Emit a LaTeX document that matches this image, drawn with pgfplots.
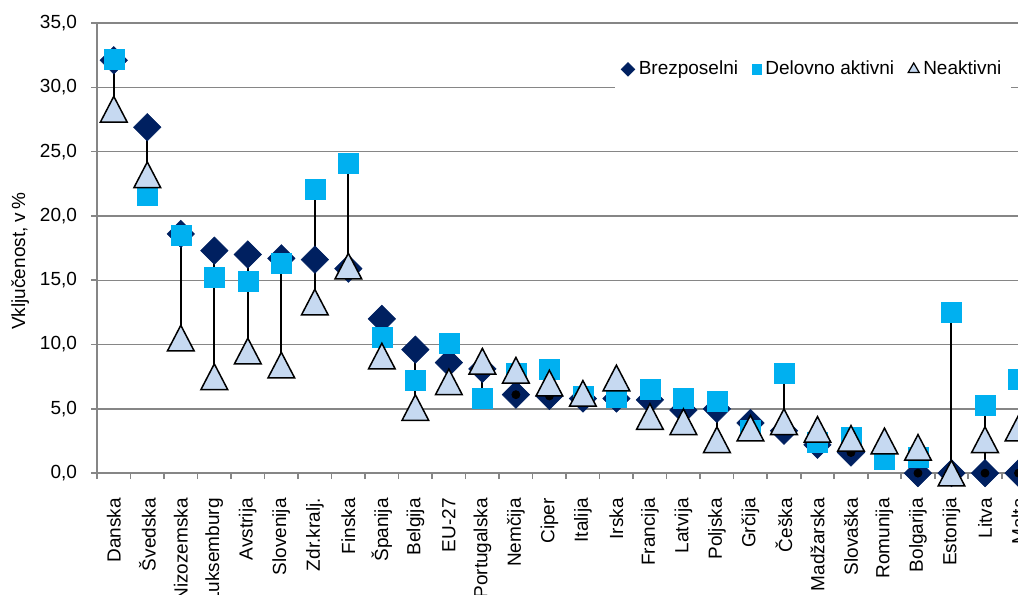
\documentclass[border=0pt]{standalone}
\usepackage{pgfplots}
\pgfplotsset{compat=1.18}
\usepackage{pgfplotstable}
\usepackage{fontspec}
\setmainfont{Liberation Sans}
\definecolor{navy}{RGB}{0,32,96}
\definecolor{cyanb}{RGB}{0,176,240}
\definecolor{tri}{RGB}{198,217,241}
\definecolor{axgray}{RGB}{134,134,134}

\pgfplotstableread{
i brez del neak lo hi
0 32.1 32.2 28.3 28.3 32.2
1 26.9 21.6 23.2 21.6 26.9
2 18.6 18.5 10.5 10.5 18.6
3 17.3 15.2 7.5 7.5 17.3
4 17.0 14.9 9.5 9.5 17.0
5 16.7 16.3 8.4 8.4 16.7
6 16.6 22.1 13.3 13.3 22.1
7 15.9 24.1 16.1 15.9 24.1
8 12.0 10.6 9.1 9.1 12.0
9 9.6 7.2 5.1 5.1 9.6
10 8.6 10.1 7.1 7.1 10.1
11 8.1 5.8 8.7 5.8 8.7
12 6.1 7.8 8.0 6.1 8.0
13 6.0 8.1 7.0 6.0 8.1
14 5.8 6.0 6.2 5.8 6.2
15 5.8 5.9 7.4 5.8 7.4
16 5.7 6.5 4.4 4.4 6.5
17 4.9 5.8 4.0 4.0 5.8
18 5.0 5.6 2.6 2.6 5.6
19 3.9 3.3 3.5 3.3 3.9
20 3.3 7.8 4.0 3.3 7.8
21 2.2 2.4 3.4 2.2 3.4
22 1.6 2.8 2.7 1.6 2.8
23 nan 1.1 2.5 1.1 2.5
24 0.0 1.2 2.0 0.0 2.0
25 0.0 12.5 0.0 0.0 12.5
26 0.0 5.3 2.6 0.0 5.3
27 0.0 7.3 3.5 0.0 7.3
}\data

\pgfplotsset{smallmark/.style={legend image code/.code={\draw[mark repeat=2,mark phase=2,##1] plot coordinates {(0cm,0cm) (0.12cm,0cm) (0.24cm,0cm)};}}}

\begin{document}
\begin{tikzpicture}
\begin{axis}[
  x=16.75pt, y=6.4286pt,
  xmin=-0.5, xmax=27.5, ymin=0, ymax=35,
  clip=false,
  axis x line*=bottom, axis y line*=left,
  axis line style={axgray, line width=0.8pt},
  tick align=outside,
  xtick={0,...,27},
  xticklabels={Danska,Švedska,Nizozemska,Luksemburg,Avstrija,Slovenija,Zdr.kralj.,Finska,Španija,Belgija,EU-27,Portugalska,Nemčija,Ciper,Italija,Irska,Francija,Latvija,Poljska,Grčija,Češka,Madžarska,Slovaška,Romunija,Bolgarija,Estonija,Litva,Malta},
  minor xtick={-0.5,0.5,...,27.5},
  major x tick style={draw=none},
  minor x tick style={axgray, line width=0.8pt},
  minor tick length=3pt, major tick length=3pt,
  y tick style={axgray, line width=0.8pt},
  ytick={0,5,...,35},
  ymajorgrids, grid style={axgray, line width=0.7pt},
  tick label style={font=\fontsize{9.5}{11}\selectfont},
  yticklabel style={xshift=-3.5pt, /pgf/number format/.cd, fixed, fixed zerofill, precision=1, use comma, assume math mode=true},
  xticklabel style={yshift=-6pt, rotate=90, anchor=east},
  ylabel={Vključenost, v\,\%},
  every axis y label/.style={at={(axis description cs:-0.082,0.471)}, rotate=90, anchor=center, font=\fontsize{9.5}{11}\selectfont},
  legend columns=3,
  legend style={at={(axis description cs:0.975,0.897)}, anchor=east, draw=none, fill=white,
    inner xsep=3pt, inner ysep=5pt, font=\fontsize{9.5}{11}\selectfont,
    /tikz/every even column/.append style={column sep=5pt}},
]
\addlegendimage{only marks, mark=square*, mark size=2.4pt, mark options={rotate=45, fill=navy, draw=navy}, smallmark}
\addlegendentry{Brezposelni}
\addlegendimage{only marks, mark=square*, mark size=2.3pt, mark options={fill=cyanb, draw=cyanb}, smallmark}
\addlegendentry{Delovno aktivni}
\addlegendimage{only marks, mark=triangle*, mark size=3.2pt, mark options={fill=tri, draw=black, line width=0.6pt}, smallmark}
\addlegendentry{Neaktivni}

\addplot[forget plot, only marks, mark=square*, mark size=4.84pt,
  mark options={rotate=45, fill=navy, draw=navy, line width=0.3pt}]
  table[x=i, y=brez] {\data};
\addplot[forget plot, only marks, mark=none,
  error bars/.cd, y dir=plus, y explicit, error mark=none,
  error bar style={draw=black, line width=1pt, solid}]
  table[x=i, y=lo, y error expr=\thisrow{hi}-\thisrow{lo}] {\data};
\addplot[forget plot, only marks, mark=square*, mark size=5pt,
  mark options={fill=cyanb, draw=cyanb, line width=0.2pt}]
  table[x=i, y=del] {\data};
\addplot[forget plot, only marks, mark=triangle*, mark size=7.7pt,
  mark options={yshift=-2.14pt, yscale=1.11, fill=tri, draw=black, line width=0.75pt}]
  table[x=i, y=neak] {\data};

\coordinate (bbsw) at (axis cs:-3.396,-9.41);
\coordinate (bbne) at (axis cs:26.985,36.79);
\end{axis}
\pgfresetboundingbox
\useasboundingbox (bbsw) rectangle (bbne);
\end{tikzpicture}
\end{document}
